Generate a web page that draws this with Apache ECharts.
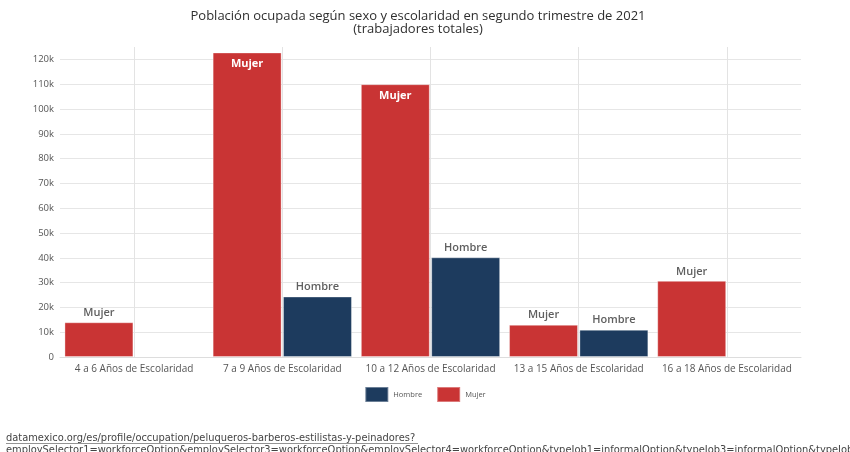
<!DOCTYPE html>
<html>
<head>
<meta charset="utf-8">
<script src="https://cdn.jsdelivr.net/npm/echarts@6/dist/echarts.min.js"></script>
<style>
  html, body { margin: 0; padding: 0; background: #ffffff; }
  #chart { width: 850px; height: 452px; }
</style>
</head>
<body>
<div id="chart"></div>
<script>
// Años de escolaridad
const categories = [
  '4 a 6 Años de Escolaridad',
  '7 a 9 Años de Escolaridad',
  '10 a 12 Años de Escolaridad',
  '13 a 15 Años de Escolaridad',
  '16 a 18 Años de Escolaridad'
];
// Trabajadores por sexo (null = sin dato)
const mujerValues  = [14000, 122800, 110000, 13000, 30700];
const hombreValues = [null, 24400, 40200, 11000, null];
// Columnas de Mujer con la etiqueta dentro de la barra
const mujerInsideLabel = [false, true, true, false, false];

const yTicks = { min: 0, max: 125000, interval: 10000 };

const RED = '#C93434';
const NAVY = '#1D3B5E';
const FONT = '"Open Sans", "Noto Sans", sans-serif';
const SOURCE_FONT = '9.9px "DejaVu Sans", sans-serif';

function buildData(values, inside) {
  return values.map((v, i) => {
    if (v == null) return null;
    const item = { value: v };
    if (inside && inside[i]) {
      item.label = {
        position: 'insideTop',
        color: '#ffffff',
        fontWeight: 'bold',
        distance: 6
      };
    }
    return item;
  });
}

const baseLabel = {
  show: true,
  position: 'top',
  formatter: '{a}',
  color: '#5f5f5f',
  fontFamily: FONT,
  fontSize: 11,
  fontWeight: 600,
  distance: 4
};

const chart = echarts.init(document.getElementById('chart'), null, { renderer: 'canvas' });
chart.setOption({
  animation: false,
  backgroundColor: '#ffffff',
  title: {
    text: 'Población ocupada según sexo y escolaridad en segundo trimestre de 2021\n(trabajadores totales)',
    left: 413,
    top: 5,
    textAlign: 'center',
    textStyle: {
      fontFamily: FONT,
      fontSize: 13,
      fontWeight: 'normal',
      color: '#2f2f2f',
      lineHeight: 13
    }
  },
  legend: {
    data: ['Hombre', 'Mujer'],
    top: 381,
    left: 'center',
    itemWidth: 23,
    itemHeight: 15,
    itemGap: 14,
    icon: 'rect',
    textStyle: { fontFamily: FONT, fontSize: 7.5, color: '#555555' }
  },
  grid: { left: 60, right: 49, top: 47, bottom: 95, containLabel: false },
  xAxis: {
    type: 'category',
    data: categories,
    axisLine: { show: true, lineStyle: { color: '#dddddd' } },
    axisTick: { show: false },
    axisLabel: {
      fontFamily: FONT,
      fontSize: 10,
      color: '#555555',
      margin: 7,
      interval: 0
    },
    splitLine: {
      show: true,
      alignWithLabel: true,
      lineStyle: { color: '#e3e3e3', width: 1 }
    }
  },
  yAxis: {
    type: 'value',
    min: yTicks.min,
    max: yTicks.max,
    interval: yTicks.interval,
    axisLine: { show: false },
    axisTick: { show: false },
    axisLabel: {
      showMaxLabel: false,
      fontFamily: FONT,
      fontSize: 9.5,
      color: '#555555',
      margin: 6,
      formatter: v => (v === 0 ? '0' : (v / 1000) + 'k')
    },
    splitLine: {
      show: true,
      showMaxLine: false,
      lineStyle: { color: '#e6e6e6', width: 1 }
    }
  },
  series: [
    {
      name: 'Mujer',
      type: 'bar',
      data: buildData(mujerValues, mujerInsideLabel),
      itemStyle: { color: RED, borderColor: 'rgba(255,255,255,0.35)', borderWidth: 1 },
      label: baseLabel,
      barGap: '2%',
      barCategoryGap: '6%'
    },
    {
      name: 'Hombre',
      type: 'bar',
      data: buildData(hombreValues, null),
      itemStyle: { color: NAVY, borderColor: 'rgba(255,255,255,0.35)', borderWidth: 1 },
      label: baseLabel
    }
  ],
  graphic: [
    {
      type: 'text',
      left: 6,
      top: 433,
      style: {
        text: 'datamexico.org/es/profile/occupation/peluqueros-barberos-estilistas-y-peinadores?',
        font: SOURCE_FONT,
        fill: '#444444'
      }
    },
    {
      type: 'line',
      shape: { x1: 6, y1: 443.5, x2: 418, y2: 443.5 },
      style: { stroke: '#666666', lineWidth: 0.7 }
    },
    {
      type: 'text',
      left: 6,
      top: 445,
      style: {
        text: 'employSelector1=workforceOption&employSelector3=workforceOption&employSelector4=workforceOption&typeJob1=informalOption&typeJob3=informalOption&typeJob4=informalOption',
        font: SOURCE_FONT,
        fill: '#444444'
      }
    }
  ]
});
</script>
</body>
</html>
